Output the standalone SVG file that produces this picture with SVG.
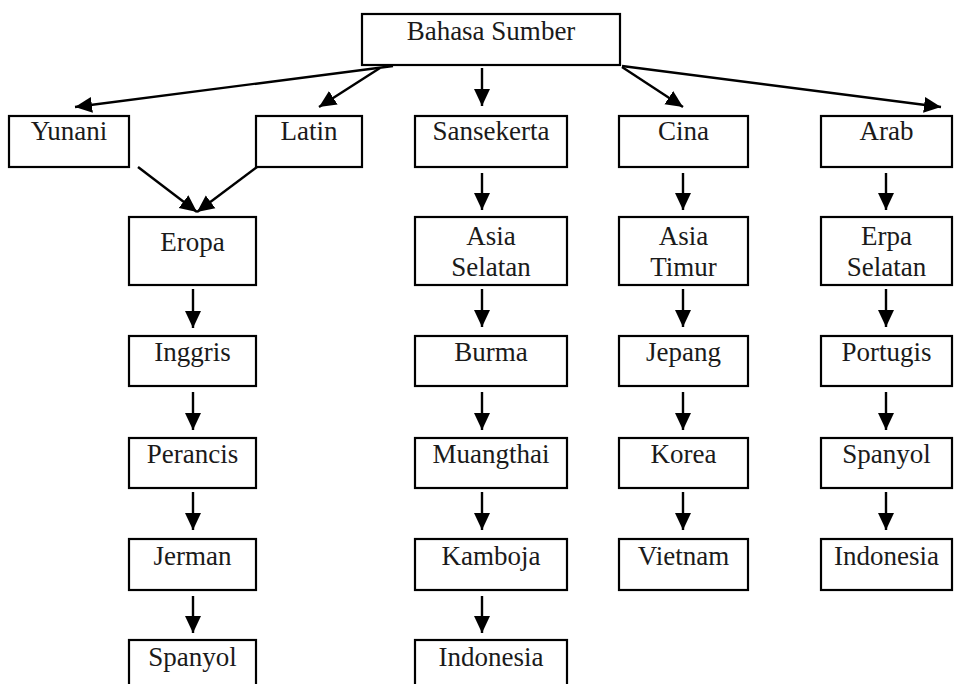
<svg xmlns="http://www.w3.org/2000/svg" width="954" height="684" viewBox="0 0 954 684">
<style>
.b{fill:#fff;stroke:#000;stroke-width:2.2}
text{font-family:"Liberation Serif","Times New Roman",serif;font-size:27px;fill:#1a1a1a;text-anchor:middle}
.c line{stroke:#000;stroke-width:2.4;marker-end:url(#ah)}
</style>
<defs>
<marker id="ah" markerUnits="userSpaceOnUse" markerWidth="18" markerHeight="17" refX="17" refY="8.5" orient="auto" viewBox="0 0 18 17">
<path d="M0,0.5 L17,8.5 L0,16.5 z" fill="#000"/>
</marker>
</defs>
<rect width="954" height="684" fill="#fff"/>
<g id="n-bahasa"><rect class="b" x="362" y="14" width="258" height="51"/><text x="491" y="40">Bahasa Sumber</text></g>
<g id="n-yunani"><rect class="b" x="9" y="116" width="120" height="51"/><text x="69" y="140">Yunani</text></g>
<g id="n-latin"><rect class="b" x="256" y="116" width="106" height="51"/><text x="309" y="140">Latin</text></g>
<g id="n-sansekerta"><rect class="b" x="415" y="116" width="152" height="51"/><text x="491" y="140">Sansekerta</text></g>
<g id="n-cina"><rect class="b" x="619" y="116" width="129" height="51"/><text x="683.5" y="140">Cina</text></g>
<g id="n-arab"><rect class="b" x="821" y="116" width="131" height="51"/><text x="886.5" y="140">Arab</text></g>
<g id="n-eropa"><rect class="b" x="129" y="217" width="127" height="68"/><text x="192.5" y="251">Eropa</text></g>
<g id="n-asiaselatan"><rect class="b" x="415" y="217" width="152" height="68"/><text x="491" y="245">Asia</text><text x="491" y="276">Selatan</text></g>
<g id="n-asiatimur"><rect class="b" x="619" y="217" width="129" height="68"/><text x="683.5" y="245">Asia</text><text x="683.5" y="276">Timur</text></g>
<g id="n-erpaselatan"><rect class="b" x="821" y="217" width="131" height="68"/><text x="886.5" y="245">Erpa</text><text x="886.5" y="276">Selatan</text></g>
<g id="n-inggris"><rect class="b" x="129" y="336" width="127" height="50"/><text x="192.5" y="361">Inggris</text></g>
<g id="n-burma"><rect class="b" x="415" y="336" width="152" height="50"/><text x="491" y="361">Burma</text></g>
<g id="n-jepang"><rect class="b" x="619" y="336" width="129" height="50"/><text x="683.5" y="361">Jepang</text></g>
<g id="n-portugis"><rect class="b" x="821" y="336" width="131" height="50"/><text x="886.5" y="361">Portugis</text></g>
<g id="n-perancis"><rect class="b" x="129" y="438" width="127" height="50"/><text x="192.5" y="463">Perancis</text></g>
<g id="n-muangthai"><rect class="b" x="415" y="438" width="152" height="50"/><text x="491" y="463">Muangthai</text></g>
<g id="n-korea"><rect class="b" x="619" y="438" width="129" height="50"/><text x="683.5" y="463">Korea</text></g>
<g id="n-spanyol2"><rect class="b" x="821" y="438" width="131" height="50"/><text x="886.5" y="463">Spanyol</text></g>
<g id="n-jerman"><rect class="b" x="129" y="539" width="127" height="51"/><text x="192.5" y="565">Jerman</text></g>
<g id="n-kamboja"><rect class="b" x="415" y="539" width="152" height="51"/><text x="491" y="565">Kamboja</text></g>
<g id="n-vietnam"><rect class="b" x="619" y="539" width="129" height="51"/><text x="683.5" y="565">Vietnam</text></g>
<g id="n-indonesia3"><rect class="b" x="821" y="539" width="131" height="51"/><text x="886.5" y="565">Indonesia</text></g>
<g id="n-spanyol1"><rect class="b" x="129" y="640" width="127" height="60"/><text x="192.5" y="666">Spanyol</text></g>
<g id="n-indonesia1"><rect class="b" x="415" y="640" width="152" height="60"/><text x="491" y="666">Indonesia</text></g>
<g id="connectors" class="c">
<line x1="393" y1="66" x2="75" y2="107"/>
<line x1="380" y1="68" x2="319" y2="107"/>
<line x1="482" y1="68" x2="482" y2="106"/>
<line x1="622" y1="67" x2="683" y2="107"/>
<line x1="622" y1="66" x2="941" y2="107"/>
<line x1="138" y1="167" x2="197" y2="212"/>
<line x1="257" y1="167" x2="197" y2="212"/>
<line x1="193" y1="289" x2="193" y2="328"/>
<line x1="193" y1="392" x2="193" y2="430"/>
<line x1="193" y1="492" x2="193" y2="530"/>
<line x1="193" y1="596" x2="193" y2="633"/>
<line x1="482" y1="173" x2="482" y2="210"/>
<line x1="482" y1="289" x2="482" y2="327"/>
<line x1="482" y1="392" x2="482" y2="430"/>
<line x1="482" y1="492" x2="482" y2="530"/>
<line x1="482" y1="596" x2="482" y2="633"/>
<line x1="683" y1="173" x2="683" y2="210"/>
<line x1="683" y1="289" x2="683" y2="327"/>
<line x1="683" y1="392" x2="683" y2="430"/>
<line x1="683" y1="492" x2="683" y2="530"/>
<line x1="886" y1="173" x2="886" y2="210"/>
<line x1="886" y1="289" x2="886" y2="327"/>
<line x1="886" y1="392" x2="886" y2="430"/>
<line x1="886" y1="492" x2="886" y2="530"/>
</g>
</svg>
